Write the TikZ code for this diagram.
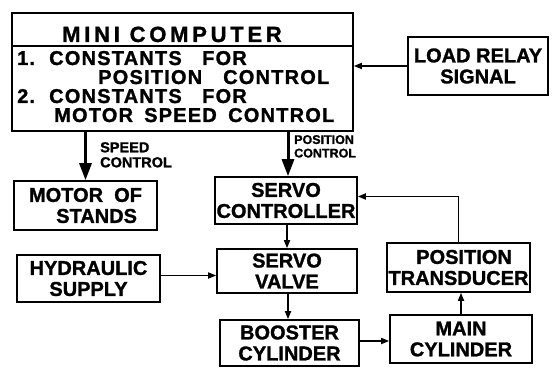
\documentclass[tikz,border=0pt]{standalone}
\usepackage{fontspec}
\setmainfont{Liberation Sans}[BoldFeatures={FakeBold=1.3}]
\newfontfamily\titlefont{Liberation Sans}[LetterSpace=17,BoldFeatures={FakeBold=1.3}]
\newfontfamily\linefont{Liberation Sans}[LetterSpace=6,BoldFeatures={FakeBold=1.3}]
\usetikzlibrary{arrows.meta,calc}
\begin{document}
\begin{tikzpicture}[x=1pt,y=-1pt,
  box/.style={draw,line width=1.6pt,inner sep=0pt,align=center,
    font=\bfseries\fontsize{20}{21}\selectfont},
  conn/.style={line width=1.6pt,-{Triangle[length=8pt,width=6pt]}},
  bigconn/.style={line width=3pt,-{Triangle[length=17pt,width=12pt]}},
  lbl/.style={inner sep=0pt,align=left,anchor=north west},
  mline/.style={inner sep=0pt,anchor=base west,font=\linefont\bfseries\fontsize{20}{21}\selectfont}]
\useasboundingbox (0,0) rectangle (553,371);
% boxes
\node[box,minimum width=341pt,minimum height=118pt] (mini) at (182.5,72) {};
\node[box,minimum width=140pt,minimum height=58pt] (load) at (478,66) {LOAD RELAY\\SIGNAL};
\node[box,minimum width=143pt,minimum height=49pt] (motor) at (85.5,205.5) {MOTOR\ \ OF\\\ \ \ \ STANDS};
\node[box,minimum width=142pt,minimum height=47pt] (sc) at (286,200.5) {SERVO\\CONTROLLER};
\node[box,minimum width=140pt,minimum height=44pt] (sv) at (287,271) {SERVO\\VALVE};
\node[box,minimum width=143pt,minimum height=47pt] (hyd) at (88.5,278.5) {HYDRAULIC\\SUPPLY};
\node[box,minimum width=139pt,minimum height=46pt] (boost) at (289.5,343) {BOOSTER\\CYLINDER};
\node[box,minimum width=142pt,minimum height=48pt] (main) at (461,339) {MAIN\\CYLINDER};
\node[box,minimum width=143pt,minimum height=49pt] (pt) at (458.5,267.5) {\ \ POSITION\\TRANSDUCER};
% mini computer contents
\coordinate (divl) at ($(mini.north west)+(0,34)$);
\draw[line width=1.6pt] (divl) -- (divl -| mini.east);
\node[inner sep=0pt,anchor=base,font=\titlefont\bfseries\fontsize{22}{23}\selectfont] (title) at (172,42) {MINI COMPUTER};
\node[mline] (l1) at (17,65) {\makebox[32pt][l]{1.}\makebox[153pt][l]{CONSTANTS}FOR};
\node[mline] (l2) at (98,84) {\makebox[125pt][l]{POSITION}CONTROL};
\node[mline] (l3) at (17,103) {\makebox[32pt][l]{2.}\makebox[153pt][l]{CONSTANTS}FOR};
\node[mline] (l4) at (54,122) {\makebox[90pt][l]{MOTOR}\makebox[84pt][l]{SPEED}CONTROL};
% labels
\node[lbl,font=\bfseries\fontsize{14.5}{15}\selectfont] (speedlbl) at (100,142) {SPEED\\CONTROL};
\node[lbl,font=\bfseries\fontsize{12.5}{13.5}\selectfont] (poslbl) at (294,135) {POSITION\\ CONTROL};
% connectors
\draw[conn] (load.west) -- (load.west -| mini.east);
\draw[bigconn] (motor.north |- mini.south) -- (motor.north);
\draw[bigconn] ($(sc.north |- mini.south)+(2,0)$) -- ($(sc.north)+(2,0)$);
\draw[conn] ($(sc.south)+(1,0)$) -- ($(sv.north)+(0,0)$);
\draw[conn] ($(sv.south)+(1,0)$) -- ($(sv.south |- boost.north)+(1,0)$);
\draw[conn] ($(hyd.east)+(0,-3)$) -- ($(hyd.east -| sv.west)+(0,-3)$);
\draw[conn] ($(boost.east)+(0,-2)$) -- ($(boost.east -| main.west)+(0,-2)$);
\draw[conn] (main.north) -- (main.north |- pt.south);
\draw[conn] (pt.north) |- ($(sc.east)+(0,-4)$);
\end{tikzpicture}
\end{document}
